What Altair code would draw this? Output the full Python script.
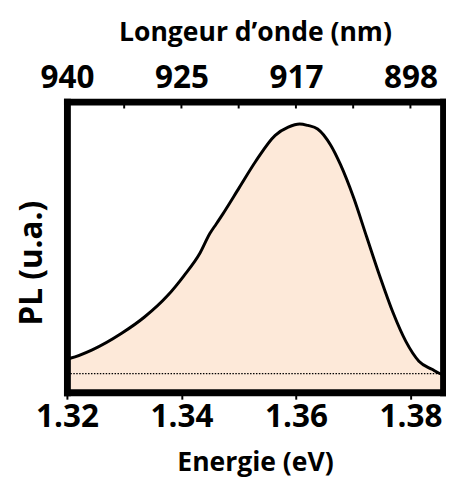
import altair as alt
import pandas as pd

# Photoluminescence spectrum (arbitrary units, 0 = bottom of frame, 1 = top)
energy = [1.3200, 1.32071, 1.32442, 1.32956, 1.33355, 1.33755, 1.34040, 1.34325,
          1.34496, 1.34611, 1.34725, 1.35010, 1.35295, 1.35638, 1.35866, 1.36066,
          1.36208, 1.36379, 1.36608, 1.36779, 1.37007, 1.37235, 1.37464, 1.37692,
          1.37920, 1.38148, 1.38377, 1.38548, 1.38570]
intensity = [0.115, 0.118, 0.146, 0.203, 0.259, 0.332, 0.400, 0.479,
             0.546, 0.580, 0.614, 0.704, 0.794, 0.884, 0.912, 0.923,
             0.918, 0.906, 0.850, 0.783, 0.670, 0.535, 0.400, 0.276,
             0.175, 0.107, 0.079, 0.062, 0.061]
baseline_level = [0.064]

energy_ticks = [1.32, 1.34, 1.36, 1.38]
energy_labels = ["1.32", "1.34", "1.36", "1.38"]
wavelength_labels = ["940", "925", "917", "898"]
inner_ticks = [1.33, 1.34, 1.35, 1.36, 1.37, 1.38]
x_domain = [1.32, 1.3857]

df = pd.DataFrame({"E": energy, "PL": intensity})
base_df = pd.DataFrame({"level": baseline_level})
ticks_df = pd.DataFrame({"t": inner_ticks})

W, H = 383, 296
FONT = "Open Sans"
FILL = "#FDE9D9"

x_scale = alt.Scale(domain=x_domain, nice=False, zero=False)
y_scale = alt.Scale(domain=[0, 1], nice=False, zero=False)

top_expr = " : ".join(
    f"abs(datum.value - {t}) < 1e-6 ? '{l}'" for t, l in zip(energy_ticks, wavelength_labels)
) + " : ''"
bottom_expr = " : ".join(
    f"abs(datum.value - {t}) < 1e-6 ? '{l}'" for t, l in zip(energy_ticks, energy_labels)
) + " : ''"

frame = dict(domain=True, domainColor="black", domainWidth=7, domainCap="square",
             grid=False, zindex=1)

area = alt.Chart(df).mark_area(color=FILL, opacity=1, clip=True, interpolate="monotone").encode(
    x=alt.X("E:Q", scale=x_scale,
            axis=alt.Axis(orient="bottom", values=energy_ticks, labelExpr=bottom_expr,
                          title="Energie (eV)", ticks=True, tickSize=7, tickWidth=2,
                          tickColor="black", labelFont=FONT, labelFontSize=32,
                          labelFontWeight="bold", labelColor="black", labelPadding=3,
                          labelFlush=False, labelOverlap=False, labelBaseline="top",
                          titleFont=FONT, titleFontSize=27, titleFontWeight="bold",
                          titleColor="black", titleY=80, titleBaseline="alphabetic",
                          **frame)),
    y=alt.Y("PL:Q", scale=y_scale,
            axis=alt.Axis(orient="left", labels=False, ticks=False, title="PL (u.a.)",
                          titleFont=FONT, titleFontSize=32, titleFontWeight="bold",
                          titleColor="black", titleAngle=-90, titleX=-26, titleY=164,
                          titleBaseline="alphabetic", titleAlign="center", **frame)),
)

line = alt.Chart(df).mark_line(color="black", strokeWidth=3, clip=True,
                               interpolate="monotone").encode(
    x=alt.X("E:Q", scale=x_scale,
            axis=alt.Axis(orient="top", values=energy_ticks, labelExpr=top_expr,
                          title="Longeur d\u2019onde (nm)", ticks=False, tickSize=0,
                          labelFont=FONT, labelFontSize=32, labelFontWeight="bold",
                          labelColor="black", labelPadding=14, labelFlush=False,
                          labelOverlap=False, labelBaseline="alphabetic",
                          titleFont=FONT, titleFontSize=27, titleFontWeight="bold",
                          titleColor="black", titleY=-62, titleBaseline="alphabetic",
                          **frame)),
    y=alt.Y("PL:Q", scale=y_scale,
            axis=alt.Axis(orient="right", labels=False, ticks=False, title=None, **frame)),
)

dotted = alt.Chart(base_df).mark_rule(color="black", strokeWidth=1.2, strokeDash=[1.5, 1.5]).encode(
    y=alt.Y("level:Q", scale=y_scale, axis=None)
)

inner = alt.Chart(ticks_df).mark_rule(color="black", strokeWidth=2).encode(
    x=alt.X("t:Q", scale=x_scale, axis=None),
    y=alt.value(0),
    y2=alt.value(7),
)

chart = alt.layer(area, dotted, line, inner).resolve_axis(
    x="independent", y="independent"
).properties(
    width=W, height=H,
    autosize=alt.AutoSizeParams(type="none"),
    padding={"left": 60, "top": 91, "right": 3, "bottom": 86},
    background="white",
).configure_view(stroke=None)

chart.save("out.html", embed_options={"renderer": "svg", "actions": False})
